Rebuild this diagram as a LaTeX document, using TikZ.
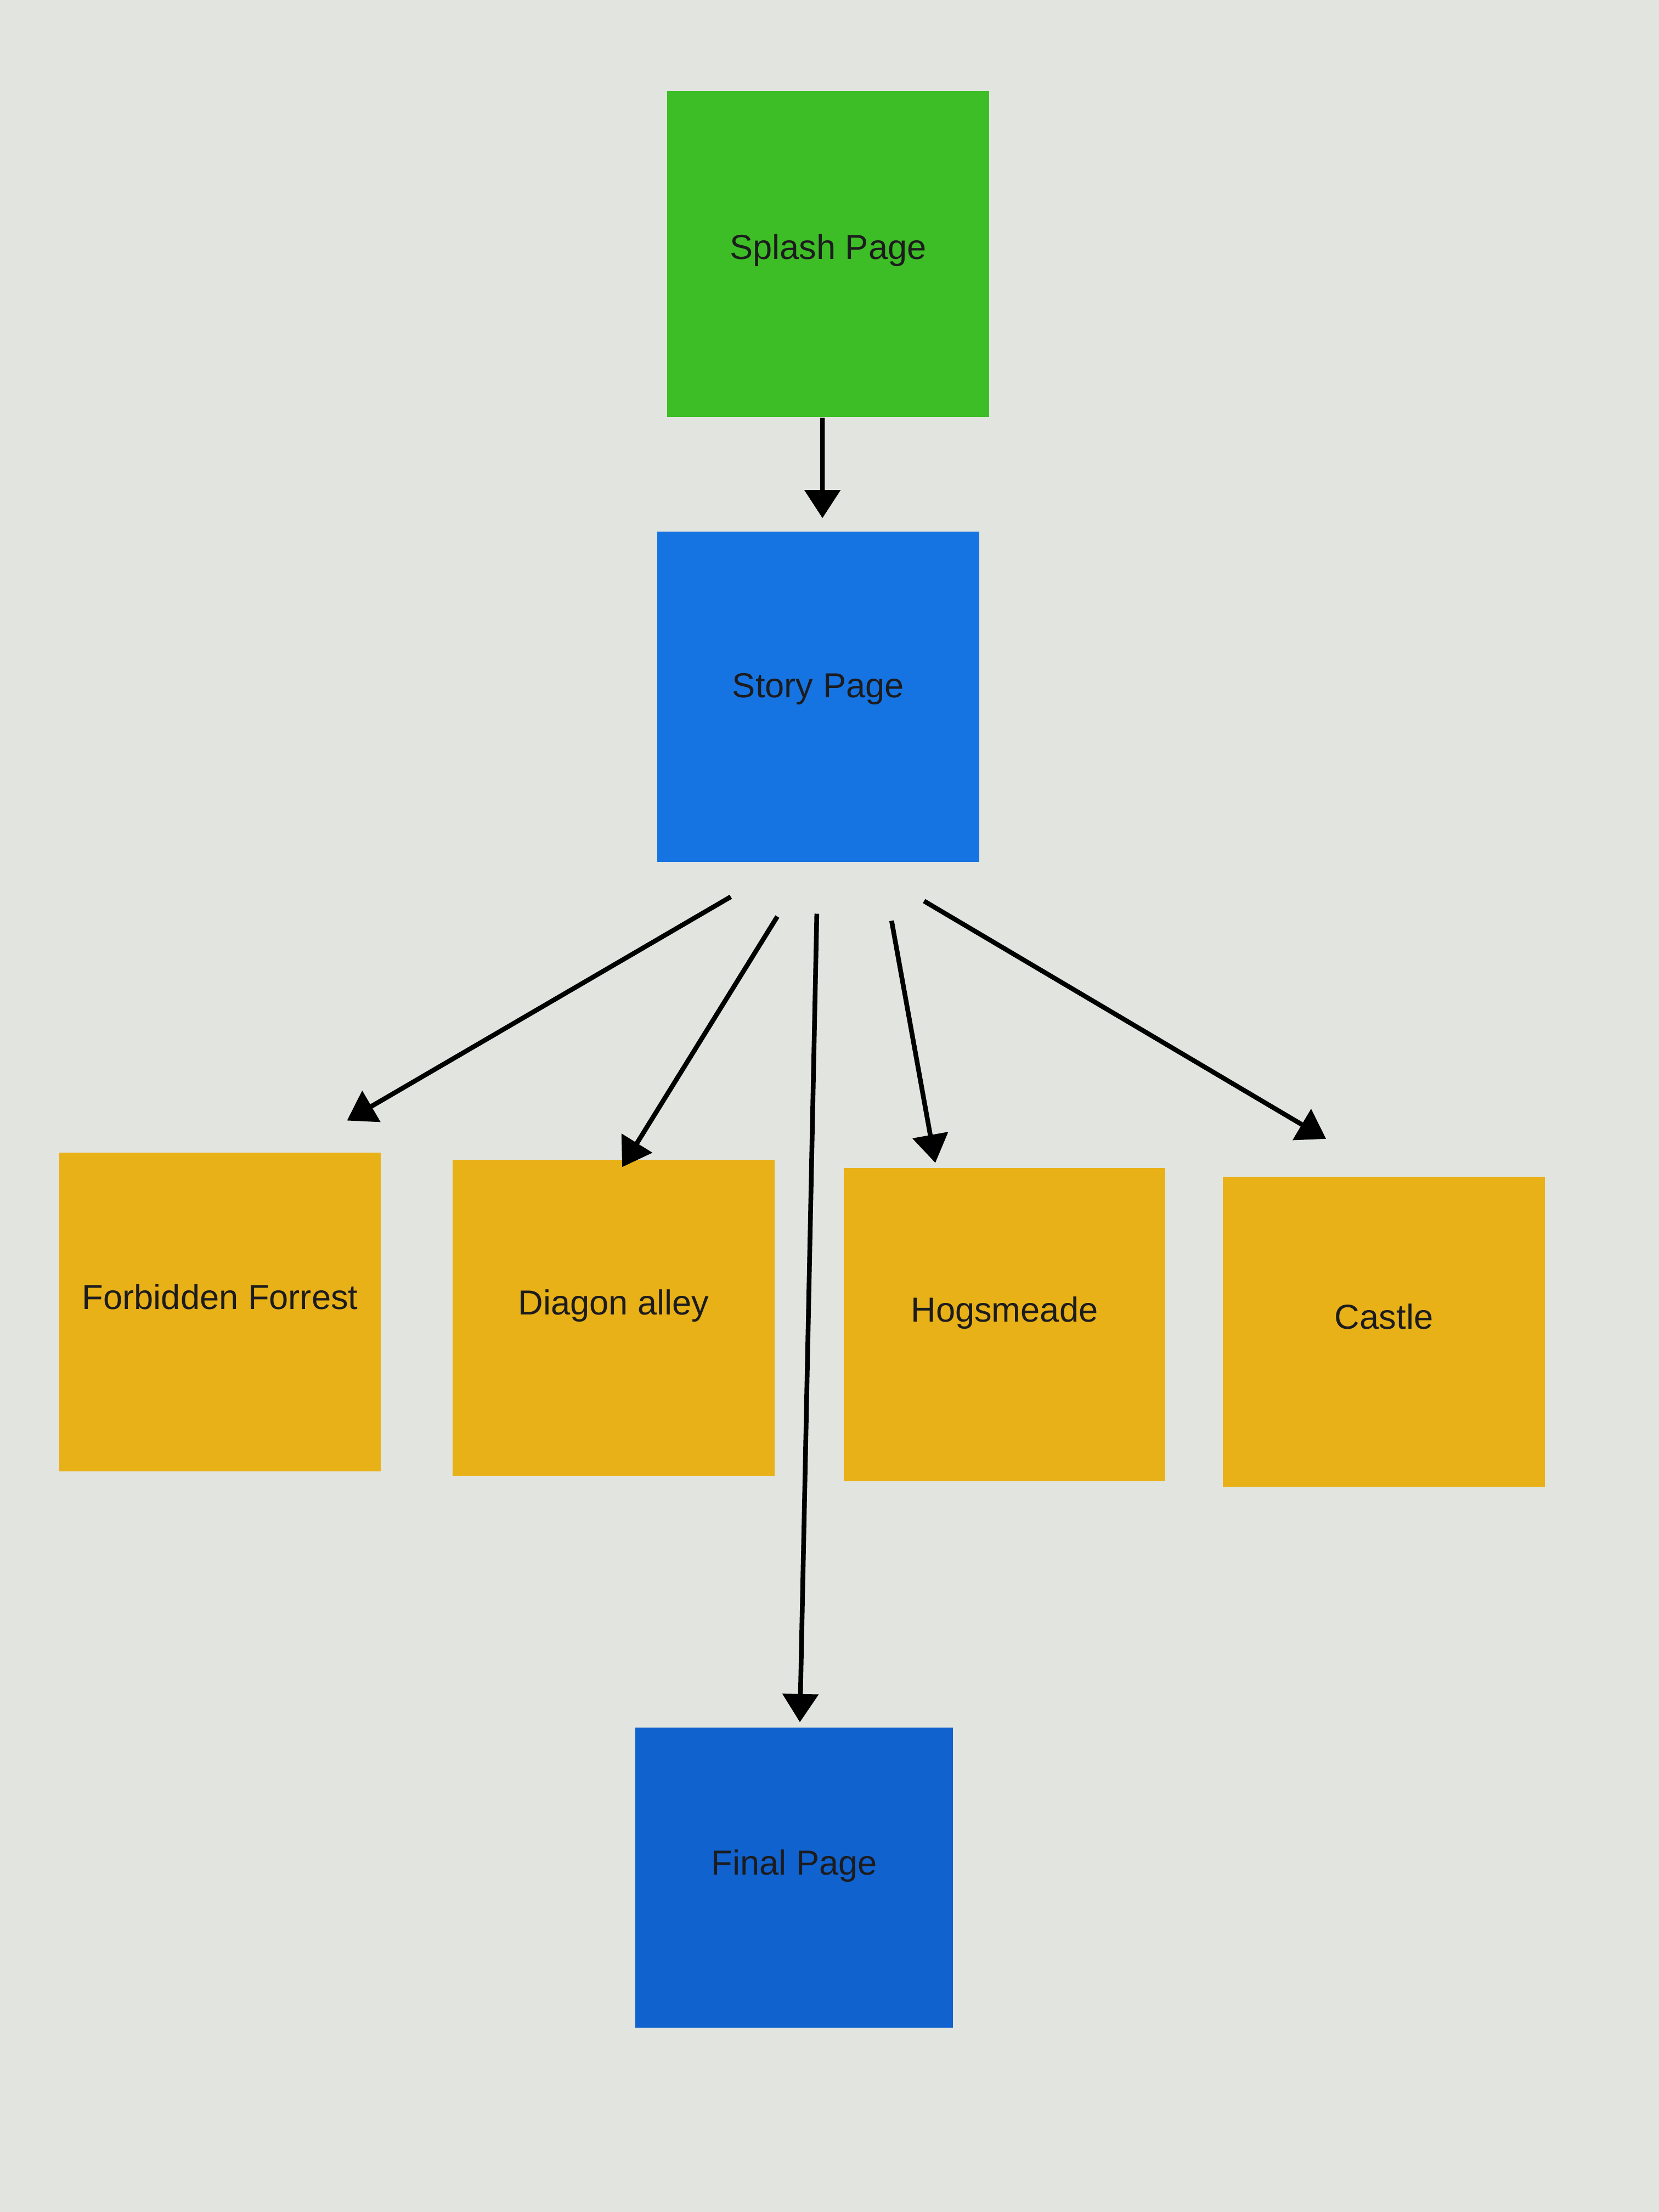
\documentclass[tikz,border=0pt]{standalone}
\definecolor{splashgreen}{RGB}{62, 190, 38}
\definecolor{storyblue}{RGB}{22, 116, 226}
\definecolor{finalblue}{RGB}{16, 98, 206}
\definecolor{placeyellow}{RGB}{233, 177, 24}
\definecolor{screengray}{RGB}{226, 228, 223}
\definecolor{inkdark}{RGB}{28, 28, 30}
\usepackage{fontspec}
\setmainfont{Liberation Sans}
\usepackage{tikz}
\usepackage{xcolor}
\usetikzlibrary{arrows.meta}

\begin{document}
\begin{tikzpicture}[
                    pagebox/.style={minimum width=2.28cm, minimum height=2.26cm, inner sep=0pt, text depth=2.2mm, text=inkdark, font=\fontsize{7}{8.4}\selectfont},
                    flow/.style={-{Triangle[length=0.2cm, width=0.25cm]}, line width=0.95pt, draw=black}
                ]
                    % screen background
                    \fill[screengray] (0,0) rectangle (11.76,-15.68);
                    \useasboundingbox (0,0) rectangle (11.76,-15.68);

                    \node[pagebox, fill=splashgreen, minimum height=2.31cm, text depth=1mm] (splash) at (5.87,-1.80) {Splash Page};
                    \node[pagebox, fill=storyblue, minimum height=2.34cm, text depth=1.6mm] (story) at (5.80,-4.94) {Story Page};

                    \node[pagebox, fill=placeyellow] (forest) at (1.56,-9.30) {Forbidden Forrest};
                    \node[pagebox, fill=placeyellow, minimum height=2.24cm] (diagon) at (4.35,-9.34) {Diagon alley};
                    \node[pagebox, fill=placeyellow, minimum height=2.22cm] (hogs) at (7.12,-9.39) {Hogsmeade};
                    \node[pagebox, fill=placeyellow, minimum height=2.20cm] (castle) at (9.81,-9.44) {Castle};

                    \node[pagebox, fill=finalblue, minimum width=2.25cm, minimum height=2.13cm] (final) at (5.63,-13.31) {Final Page};

                    \draw[flow] ([xshift=-0.04cm]splash.south) -- ([xshift=0.03cm, yshift=0.09cm]story.north);
                    \draw[flow] ([xshift=-0.62cm, yshift=-0.24cm]story.south) -- ([xshift=0.90cm, yshift=0.22cm]forest.north);
                    \draw[flow] ([xshift=-0.29cm, yshift=-0.38cm]story.south) -- ([xshift=0.06cm, yshift=-0.06cm]diagon.north);
                    \draw[flow] ([xshift=-0.01cm, yshift=-0.36cm]story.south) -- ([xshift=0.04cm, yshift=0.03cm]final.north);
                    \draw[flow] ([xshift=0.52cm, yshift=-0.41cm]story.south) -- ([xshift=-0.49cm, yshift=0.03cm]hogs.north);
                    \draw[flow] ([xshift=0.75cm, yshift=-0.27cm]story.south) -- ([xshift=-0.41cm, yshift=0.26cm]castle.north);
                \end{tikzpicture}
\end{document}
